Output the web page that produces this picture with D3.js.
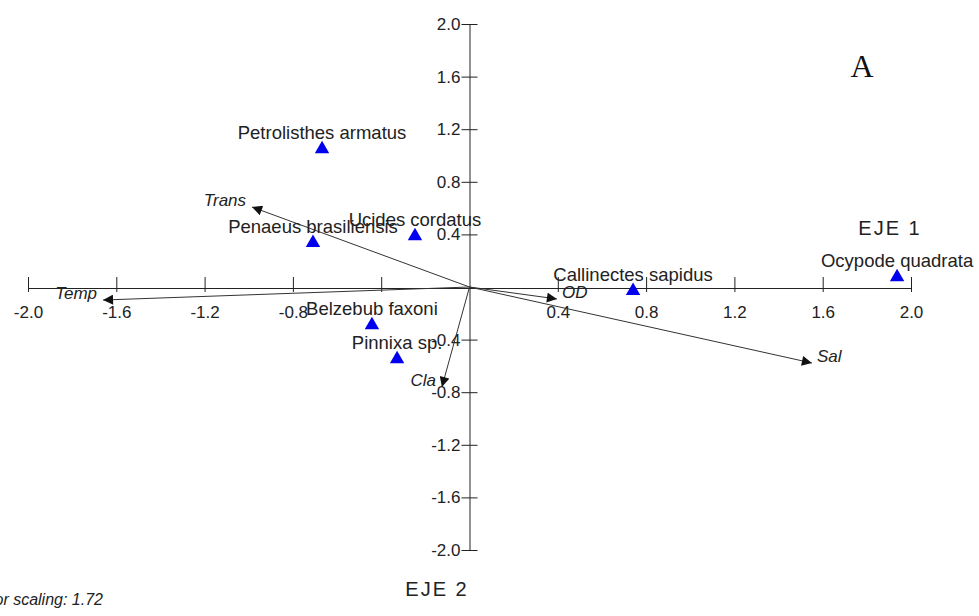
<!DOCTYPE html>
<html>
<head>
<meta charset="utf-8">
<script src="https://cdn.jsdelivr.net/npm/d3@7"></script>
<style>
  body { margin: 0; background: #fff; }
  svg { display: block; font-family: "Liberation Sans", Arial, sans-serif; }
</style>
</head>
<body>
<svg width="979" height="616"></svg>
<script>
// species scores (eje 1, eje 2)
const species = ['Petrolisthes armatus', 'Penaeus brasiliensis', 'Ucides cordatus',
    'Belzebub faxoni', 'Pinnixa sp.', 'Callinectes sapidus', 'Ocypode quadrata'];
const spX = [-0.668, -0.709, -0.247, -0.442, -0.328, 0.741, 1.937];
const spY = [1.049, 0.335, 0.388, -0.289, -0.548, -0.030, 0.076];

// environmental vectors
const vars = ['Trans', 'Temp', 'OD', 'Sal', 'Cla'];
const varX = [-0.985, -1.660, 0.396, 1.551, -0.125];
const varY = [0.608, -0.099, -0.091, -0.578, -0.760];

const xTicks = [-2.0, -1.6, -1.2, -0.8, -0.4, 0.4, 0.8, 1.2, 1.6, 2.0];
const yTicks = [-2.0, -1.6, -1.2, -0.8, -0.4, 0.4, 0.8, 1.2, 1.6, 2.0];

const svg = d3.select('svg');
const fmt = d => d.toFixed(1);   // plain hyphen minus

let x = d3.scaleLinear().domain([-2, 2]).range([28, 911]);
let y = d3.scaleLinear().domain([-2, 2]).range([550, 24]);

// x axis
let xAxis = d3.axisBottom(x)
    .tickValues(xTicks)
    .tickSizeOuter(0)
    .tickPadding(12)
    .tickFormat(d => d === -0.4 ? '' : fmt(d));
let gx = svg.append('g')
    .attr('transform', `translate(0, ${y(0) + 1})`)
    .call(xAxis);
gx.select('.domain').attr('stroke', '#222');
gx.selectAll('.tick line').attr('y1', -11).attr('y2', 4).attr('stroke', '#222');
gx.selectAll('.tick text')
    .attr('font-size', 17).attr('fill', '#222')
    .attr('font-family', '"Liberation Sans", Arial, sans-serif');

// y axis
let yAxis = d3.axisLeft(y)
    .tickValues(yTicks)
    .tickSizeOuter(0)
    .tickPadding(2)
    .tickFormat(fmt);
let gy = svg.append('g')
    .attr('transform', `translate(${x(0)}, 0)`)
    .call(yAxis);
gy.select('.domain').attr('stroke', '#222');
gy.selectAll('.tick line').attr('x1', -8).attr('x2', 8).attr('stroke', '#222');
gy.selectAll('.tick text')
    .attr('x', -9)
    .attr('font-size', 17).attr('fill', '#222')
    .attr('font-family', '"Liberation Sans", Arial, sans-serif');

// arrow marker
svg.append('defs').append('marker')
    .attr('id', 'arrow')
    .attr('viewBox', '0 0 10 10')
    .attr('refX', 10).attr('refY', 5)
    .attr('markerWidth', 12).attr('markerHeight', 10)
    .attr('markerUnits', 'userSpaceOnUse')
    .attr('orient', 'auto')
    .append('path')
    .attr('d', 'M0,0L10,5L0,10Z')
    .attr('fill', '#111');

let vecs = vars.map((v, i) => ({ name: v, x: varX[i], y: varY[i] }));
let vLayer = svg.append('g');
vLayer.selectAll('line')
    .data(vecs)
    .enter().append('line')
    .attr('x1', x(0)).attr('y1', y(0))
    .attr('x2', d => x(d.x)).attr('y2', d => y(d.y))
    .attr('stroke', '#333')
    .attr('stroke-width', 1)
    .attr('marker-end', 'url(#arrow)');
vLayer.selectAll('text')
    .data(vecs)
    .enter().append('text')
    .attr('x', d => d.x < 0 ? x(d.x) - 6 : x(d.x) + 5)
    .attr('y', d => y(d.y) - 1)
    .attr('text-anchor', d => d.x < 0 ? 'end' : 'start')
    .attr('font-size', 17)
    .attr('font-style', 'italic')
    .attr('fill', '#222')
    .text(d => d.name);

// species
let pts = species.map((s, i) => ({ name: s, x: spX[i], y: spY[i] }));
let pLayer = svg.append('g');
pLayer.selectAll('path')
    .data(pts)
    .enter().append('path')
    .attr('d', d3.symbol(d3.symbolTriangle).size(90))
    .attr('transform', d => `translate(${x(d.x)}, ${y(d.y)})`)
    .attr('fill', '#0000ee');
pLayer.selectAll('text')
    .data(pts)
    .enter().append('text')
    .attr('x', d => x(d.x))
    .attr('y', d => y(d.y) - 10)
    .attr('text-anchor', 'middle')
    .attr('font-size', 18.5)
    .attr('fill', '#222')
    .text(d => d.name);

// annotations
svg.append('text').attr('x', 890).attr('y', 235).attr('text-anchor', 'middle')
    .attr('font-size', 20).attr('letter-spacing', 2).attr('fill', '#222').text('EJE 1');
svg.append('text').attr('x', 437).attr('y', 596).attr('text-anchor', 'middle')
    .attr('font-size', 20).attr('letter-spacing', 2).attr('fill', '#222').text('EJE 2');
svg.append('text').attr('x', 862).attr('y', 77).attr('text-anchor', 'middle')
    .attr('font-size', 32).attr('font-family', '"Liberation Serif", "Times New Roman", serif')
    .attr('fill', '#111').text('A');
svg.append('text').attr('x', 103).attr('y', 605).attr('text-anchor', 'end')
    .attr('font-size', 16).attr('font-style', 'italic').attr('fill', '#222')
    .text('Vector scaling: 1.72');
</script>
</body>
</html>
